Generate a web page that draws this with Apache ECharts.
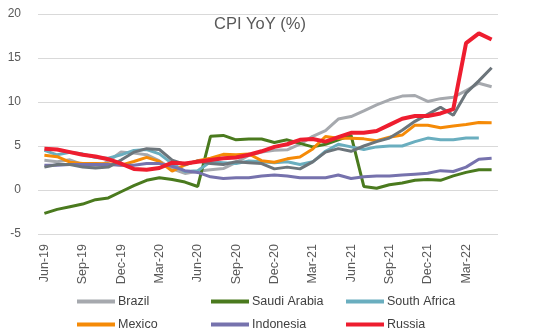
<!DOCTYPE html>
<html>
<head>
<meta charset="utf-8">
<script src="https://cdn.jsdelivr.net/npm/echarts@6/dist/echarts.min.js"></script>
<style>
html,body{margin:0;padding:0;background:#fff;}
#chart{width:544px;height:336px;}
</style>
</head>
<body>
<div id="chart"></div>
<script>
var categories = ['Jun-19','Jul-19','Aug-19','Sep-19','Oct-19','Nov-19','Dec-19','Jan-20','Feb-20','Mar-20','Apr-20','May-20',
  'Jun-20','Jul-20','Aug-20','Sep-20','Oct-20','Nov-20','Dec-20','Jan-21','Feb-21','Mar-21','Apr-21','May-21',
  'Jun-21','Jul-21','Aug-21','Sep-21','Oct-21','Nov-21','Dec-21','Jan-22','Feb-22','Mar-22','Apr-22','May-22'];
var brazil = [3.37,3.22,3.43,2.89,2.54,3.27,4.31,4.19,4.01,3.30,2.40,1.88,2.13,2.31,2.44,3.14,3.92,4.31,4.52,4.56,5.20,6.10,6.76,8.06,8.35,8.99,9.68,10.25,10.67,10.74,10.06,10.38,10.54,11.30,12.13,11.73];
var saudiArabia = [-2.65,-2.2,-1.9,-1.6,-1.1,-0.9,-0.2,0.5,1.1,1.4,1.2,0.9,0.4,6.1,6.2,5.7,5.8,5.8,5.4,5.7,5.3,4.9,5.2,5.7,6.2,0.4,0.2,0.6,0.8,1.1,1.2,1.1,1.6,2.0,2.3,2.3];
var southAfrica = [4.5,4.0,4.3,4.1,3.7,3.6,4.0,4.5,4.6,4.1,3.0,2.1,2.2,3.2,3.1,3.0,3.3,3.2,3.1,3.2,2.9,3.2,4.4,5.2,4.9,4.6,4.9,5.0,5.0,5.5,5.9,5.7,5.7,5.9,5.9,null];
var mexico = [3.95,3.78,3.16,3.00,3.02,2.97,2.83,3.24,3.70,3.25,2.15,2.84,3.33,3.62,4.05,4.01,4.09,3.33,3.15,3.54,3.76,4.67,6.08,5.89,5.88,5.81,5.59,6.00,6.24,7.37,7.36,7.07,7.28,7.45,7.68,7.65];
var indonesia = [2.8,2.8,2.9,2.9,2.9,2.9,2.8,2.8,3.0,3.0,2.7,2.2,2.0,1.5,1.3,1.4,1.4,1.6,1.7,1.6,1.4,1.4,1.4,1.7,1.3,1.5,1.6,1.6,1.7,1.8,1.9,2.2,2.1,2.6,3.5,3.6];
var poland = [2.6,2.9,2.9,2.6,2.5,2.6,3.4,4.3,4.7,4.6,3.4,2.9,3.3,3.0,2.9,3.2,3.1,3.0,2.4,2.6,2.4,3.2,4.3,4.7,4.4,5.0,5.5,5.9,6.8,7.8,8.6,9.4,8.5,11.0,12.4,13.9];
var russia = [4.7,4.6,4.3,4.0,3.8,3.5,3.0,2.4,2.3,2.5,3.1,3.0,3.2,3.4,3.6,3.7,4.0,4.4,4.9,5.2,5.7,5.8,5.5,6.0,6.5,6.5,6.7,7.4,8.1,8.4,8.4,8.7,9.2,16.7,17.8,17.1];
var yTicks = [-5,0,5,10,15,20];

var FONT = "'Liberation Sans', Arial, sans-serif";
var TXT = '#595959';

function ser(name, data, color, width, z) {
  return {name: name, type: 'line', data: data, symbol: 'none', smooth: false, z: z,
    lineStyle: {color: color, width: width}, itemStyle: {color: color}};
}
function leg(name, left, top) {
  return {data: [name], left: left, top: top, itemWidth: 38, itemHeight: 4, itemGap: 0,
    icon: 'rect', textStyle: {fontFamily: FONT, fontSize: 12.5, color: '#404040', padding: [0,0,0,-2]}};
}

var chart = echarts.init(document.getElementById('chart'), null, {renderer: 'canvas'});
chart.setOption({
  animation: false,
  backgroundColor: '#ffffff',
  title: {text: 'CPI YoY (%)', left: 255, textAlign: 'center', top: 11,
    textStyle: {fontFamily: FONT, fontSize: 16.5, fontWeight: 'normal', color: TXT}},
  grid: {left: 38, right: 46, top: 14, bottom: 102, containLabel: false},
  legend: [
    leg('Brazil', 72, 290), leg('Saudi Arabia', 206, 290), leg('South Africa', 341, 290),
    leg('Mexico', 72, 313), leg('Indonesia', 206, 313), leg('Russia', 341, 313)
  ],
  xAxis: {type: 'category', data: categories, boundaryGap: true,
    axisLine: {show: false}, axisTick: {show: false},
    axisLabel: {interval: 2, rotate: 90, margin: 10, fontFamily: FONT, fontSize: 12.5, color: TXT}},
  yAxis: {type: 'value', min: yTicks[0], max: yTicks[yTicks.length-1], interval: 5,
    axisLine: {show: false}, axisTick: {show: false},
    axisLabel: {margin: 17, fontFamily: FONT, fontSize: 12, color: TXT},
    splitLine: {lineStyle: {color: '#d9d9d9', width: 1}}},
  series: [
    ser('Brazil', brazil, '#a6a9ae', 3, 2),
    ser('Saudi Arabia', saudiArabia, '#4a7a1e', 3, 2),
    ser('South Africa', southAfrica, '#6aaebf', 3, 2),
    ser('Mexico', mexico, '#f58a07', 3, 2),
    ser('Indonesia', indonesia, '#7672ad', 3, 2),
    ser('Poland', poland, '#6c757b', 3, 3),
    ser('Russia', russia, '#ee1d2f', 4, 4)
  ]
});
</script>
</body>
</html>
